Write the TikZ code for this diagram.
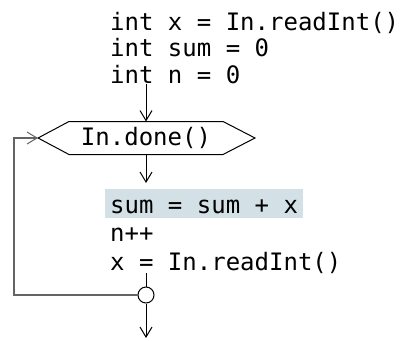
\documentclass[tikz,border=0pt]{standalone}
\usepackage{fontspec}
\newfontfamily\codefont{DejaVu Sans Mono}
\usetikzlibrary{arrows.meta}
\definecolor{hl}{RGB}{211,225,230}
\definecolor{loopgray}{RGB}{100,100,100}
\tikzset{
  code/.style={font=\codefont\fontsize{24pt}{27pt}\selectfont, inner sep=0pt, anchor=base west},
  conn/.style={line width=1pt, -{Straight Barb[length=10pt,width=12pt,line width=1pt]}},
  plain/.style={line width=1pt},
  loopline/.style={line width=1.2pt, draw=loopgray},
}
\begin{document}
\begin{tikzpicture}[x=1pt,y=-1pt]
\fill[white] (0,0) rectangle (404,340);
\useasboundingbox (0,0) rectangle (404,340);
% initial statements
\node[code] (l1) at (110,30) {int x = In.readInt()};
\node[code] (l2) at (110,56.5) {int sum = 0};
\node[code] (l3) at (110,83) {int n = 0};
% condition hexagon
\node[code, anchor=center] (cond) at (146,138) {In.done()};
\coordinate (hexL) at (38,138);
\coordinate (hexTop) at (146,121.5);
\coordinate (hexBot) at (146,154.5);
\draw[plain] (hexL) -- (69,121.5) -- (223,121.5) -- (255,138) -- (223,154.5) -- (69,154.5) -- cycle;
% body
\node[code, fill=hl, inner xsep=5pt, inner ysep=0pt, text height=24pt, text depth=5pt] (b1) at (105,213) {sum = sum + x};
\node[code] (b2) at (110,241.5) {n++};
\node[code] (b3) at (110,270) {x = In.readInt()};
% join circle
\node[circle, draw, line width=1pt, minimum size=16pt, inner sep=0pt] (join) at (146,295) {};
\coordinate (a1) at (146,84);
\coordinate (a2) at (146,183);
\coordinate (a3) at (146,273);
\coordinate (out) at (146,338);
% connectors
\draw[conn] (a1) -- (hexTop);
\draw[conn] (hexBot) -- (a2);
\draw[plain] (a3) -- (join.north);
\draw[conn] (join.south) -- (out);
\draw[loopline, -{Straight Barb[length=10pt,width=12pt,line width=1pt]}] (join.west) -- (14,295) -- (14,138) -- (hexL);
\end{tikzpicture}
\end{document}
